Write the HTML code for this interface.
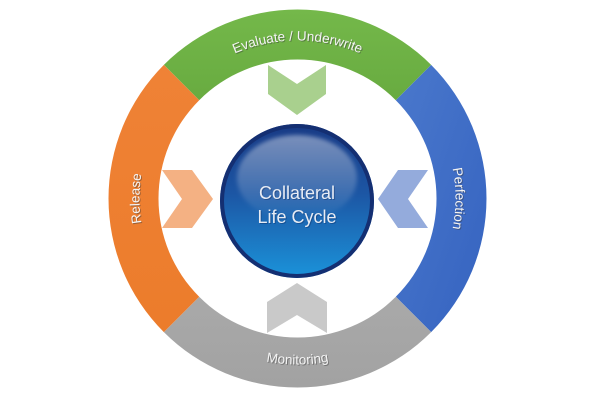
<!DOCTYPE html>
<html><head><meta charset="utf-8"><style>
html,body{margin:0;padding:0;background:#fff;}
svg{display:block;}
</style></head><body>
<svg width="600" height="400" viewBox="0 0 600 400" xmlns="http://www.w3.org/2000/svg">
<defs>
<linearGradient id="gG" x1="0" y1="0" x2="0" y2="1"><stop offset="0" stop-color="#74b84a"/><stop offset="1" stop-color="#68ab40"/></linearGradient>
<linearGradient id="gB" x1="0" y1="0" x2="1" y2="1"><stop offset="0" stop-color="#4a78cc"/><stop offset="1" stop-color="#3563c0"/></linearGradient>
<linearGradient id="gO" x1="0" y1="0" x2="0" y2="1"><stop offset="0" stop-color="#ef8236"/><stop offset="1" stop-color="#ec7c2b"/></linearGradient>
<linearGradient id="gR" x1="0" y1="0" x2="0" y2="1"><stop offset="0" stop-color="#a9a9a9"/><stop offset="1" stop-color="#a2a2a2"/></linearGradient>
<linearGradient id="ball" x1="0" y1="0" x2="0" y2="1"><stop offset="0" stop-color="#183a85"/><stop offset="0.45" stop-color="#1c56a4"/><stop offset="1" stop-color="#1b93da"/></linearGradient>
<linearGradient id="hl" x1="0" y1="0" x2="0" y2="1"><stop offset="0" stop-color="#ffffff" stop-opacity="0.42"/><stop offset="0.55" stop-color="#ffffff" stop-opacity="0.2"/><stop offset="1" stop-color="#ffffff" stop-opacity="0"/></linearGradient>
<filter id="blur" x="-20%" y="-20%" width="140%" height="140%"><feGaussianBlur stdDeviation="2"/></filter>
<path id="pTop" d="M139.5,198.5 A158,158 0 0 1 455.5,198.5"/>
<path id="pRight" d="M297.5,40.5 A158,158 0 0 1 297.5,356.5"/>
<path id="pLeft" d="M297.5,356.5 A158,158 0 0 1 297.5,40.5"/>
<path id="pBot" d="M131.5,198.5 A166,166 0 0 0 463.5,198.5"/>
</defs>
<path d="M163.86,64.86 A189,189 0 0 1 431.14,64.86 L395.79,100.21 A139,139 0 0 0 199.21,100.21 Z" fill="url(#gG)"/>
<path d="M431.14,64.86 A189,189 0 0 1 431.14,332.14 L395.79,296.79 A139,139 0 0 0 395.79,100.21 Z" fill="url(#gB)"/>
<path d="M431.14,332.14 A189,189 0 0 1 163.86,332.14 L199.21,296.79 A139,139 0 0 0 395.79,296.79 Z" fill="url(#gR)"/>
<path d="M163.86,332.14 A189,189 0 0 1 163.86,64.86 L199.21,100.21 A139,139 0 0 0 199.21,296.79 Z" fill="url(#gO)"/>

<g font-family="Liberation Sans, sans-serif" font-size="13.5" text-anchor="middle">
<g fill="#3a3a3a" fill-opacity="0.45" transform="translate(1,1)">
<text><textPath href="#pTop" startOffset="50%">Evaluate / Underwrite</textPath></text>
<text><textPath href="#pRight" startOffset="50%">Perfection</textPath></text>
<text><textPath href="#pLeft" startOffset="50%">Release</textPath></text>
<text><textPath href="#pBot" startOffset="50%">Monitoring</textPath></text>
</g>
<g fill="#f4f4f4">
<text><textPath href="#pTop" startOffset="50%">Evaluate / Underwrite</textPath></text>
<text><textPath href="#pRight" startOffset="50%">Perfection</textPath></text>
<text><textPath href="#pLeft" startOffset="50%">Release</textPath></text>
<text><textPath href="#pBot" startOffset="50%">Monitoring</textPath></text>
</g>
</g>

<polygon points="268,65 297,84 326,65 326,94 297,115 268,94" fill="#a9d08e"/>
<polygon points="267,302 297,283 327,302 327,333 297,315 267,333" fill="#c9c9c9"/>
<polygon points="162,170 192,170 213,199 192,228 162,228 182,199" fill="#f4b183"/>
<polygon points="428,170 398,170 378,199 398,228 428,228 408,199" fill="#94abdc"/>

<circle cx="297" cy="201" r="77" fill="url(#ball)"/>
<circle cx="297" cy="201" r="75" fill="none" stroke="#142f72" stroke-width="4"/>
<ellipse cx="297" cy="178" rx="60" ry="43" fill="url(#hl)" filter="url(#blur)"/>
<g font-family="Liberation Sans, sans-serif" font-size="18" text-anchor="middle">
<text x="298" y="200" fill="#0d2a5e" fill-opacity="0.4">Collateral</text>
<text x="298" y="224" fill="#0d2a5e" fill-opacity="0.4">Life Cycle</text>
<text x="297" y="199" fill="#e8ecf4">Collateral</text>
<text x="297" y="223" fill="#e8ecf4">Life Cycle</text>
</g>
</svg>
</body></html>
